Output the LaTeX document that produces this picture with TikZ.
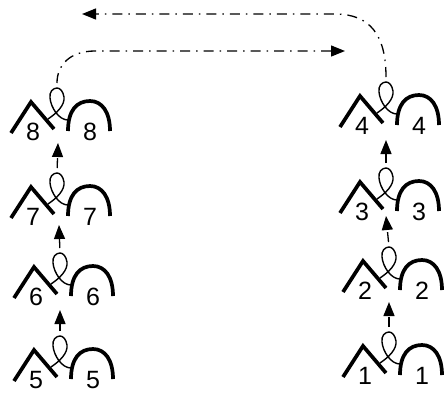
\documentclass[tikz,border=0pt]{standalone}
\usepackage{fontspec}
\setmainfont{Liberation Sans}
\usetikzlibrary{arrows.meta}

\begin{document}
\begin{tikzpicture}[
        x=1pt, y=-1pt,
        thickline/.style={line width=3.7pt},
        thinline/.style={line width=1.4pt},
        digit/.style={font=\fontsize{25}{25}\selectfont, inner sep=0pt},
        flow/.style={line width=1.3pt, dash pattern=on 10pt off 6pt on 1.5pt off 6pt,
            shorten <=5pt, -{Triangle[length=14pt, width=11pt]}},
        hinge/.pic={
            \draw[thickline] (-20,31) -- (0,0) -- (23,27);
            \draw[thickline] (37,29) .. controls (37,8) and (46,-1) .. (59,-1)
                .. controls (71,-1) and (79,10) .. (79,29);
            \draw[thinline] (17,17) .. controls (26,11) and (34,3) .. (33,-5)
                .. controls (32,-11) and (29,-14) .. (26,-14)
                .. controls (22,-14) and (18,-10) .. (19,-4)
                .. controls (20,6) and (28,18) .. (37,18);
            \coordinate (-top) at (26,-14);
            \node[digit] (-left) at (2,30) {\pgfkeysvalueof{/tikz/hingelabel}};
            \node[digit] (-right) at (59,30) {\pgfkeysvalueof{/tikz/hingelabel}};
        },
        hingelabel/.initial=1
    ]
    \useasboundingbox (0,0) rectangle (445,392);

    \foreach \n/\x/\y in {8/31/102, 7/31/187, 6/34/267, 5/34/350,
                          4/360/96, 3/360/182, 2/363/261, 1/363/346}
        \pic[hingelabel=\n] (m\n) at (\x,\y) {hinge};

    % columns
    \foreach \a/\b/\tx/\ty in {5/6/60/310, 6/7/59/225, 7/8/58/143,
                               1/2/389/302, 2/3/386/216, 3/4/386/140} {
        \coordinate (tip\b) at (\tx,\ty);
        \draw[flow] (m\a-top) -- (tip\b);
    }

    % across the top
    \coordinate (over) at (345,51);
    \coordinate (back) at (82,14);
    \draw[flow] (m8-top) .. controls (57,65) and (70,51) .. (95,51) -- (over);
    \draw[flow] (m4-top) .. controls (386,35) and (370,14) .. (335,14) -- (back);
\end{tikzpicture}
\end{document}
